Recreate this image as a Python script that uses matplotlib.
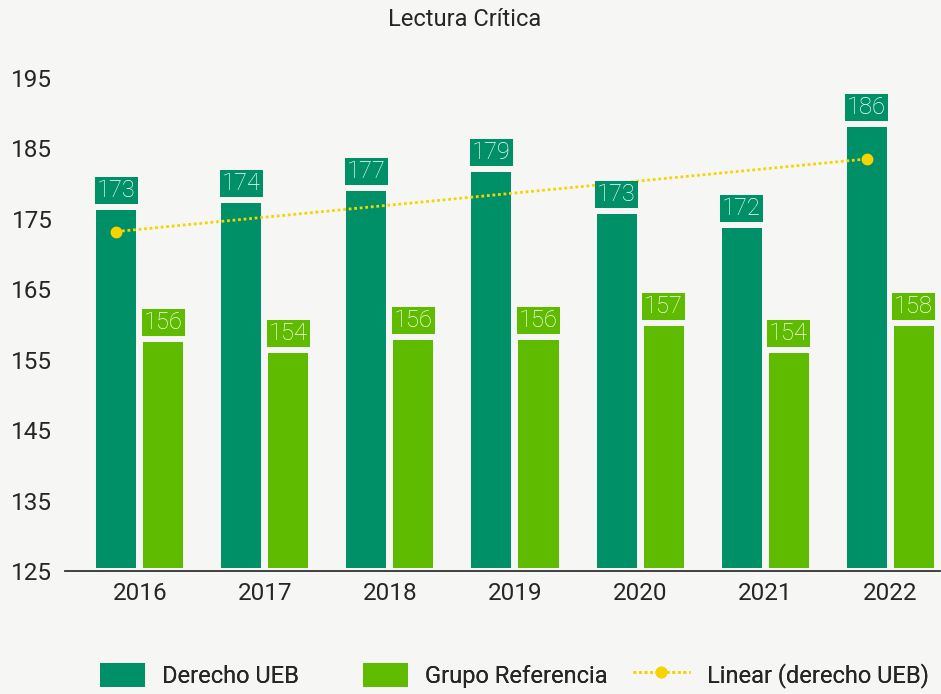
import numpy as np
import matplotlib
matplotlib.use("Agg")
import matplotlib.pyplot as plt
from matplotlib.patches import Patch
from matplotlib.lines import Line2D

plt.rcParams["font.family"] = ["Roboto", "DejaVu Sans"]

years = ["2016", "2017", "2018", "2019", "2020", "2021", "2022"]
ueb_labels = [173, 174, 177, 179, 173, 172, 186]
ref_labels = [156, 154, 156, 156, 157, 154, 158]
# bar heights as drawn in the picture (they sit a bit above the printed labels)
ueb_bars = [176.3, 177.3, 179.0, 181.7, 175.7, 173.7, 188.1]
ref_bars = [157.5, 156.0, 157.8, 157.8, 159.8, 156.0, 159.8]
trend_years = ["2016", "2022"]
trend_vals = [173.2, 183.5]

C_UEB = "#009068"
C_REF = "#5fbb00"
C_TREND = "#f7d400"
BG = "#f6f6f4"
TXT = "#262626"

fig = plt.figure(figsize=(9.41, 6.94), dpi=100, facecolor=BG)
ax = fig.add_axes([0.069, 0.177, 0.930, 0.731], facecolor=BG)

x = np.arange(len(years))
w = 0.32
off = 0.188
base = 125.5
ax.bar(x - off, np.array(ueb_bars) - base, w, bottom=base, color=C_UEB, zorder=2)
ax.bar(x + off, np.array(ref_bars) - base, w, bottom=base, color=C_REF, zorder=2)

for xi, h, lab in zip(x - off, ueb_bars, ueb_labels):
    ax.annotate(str(lab), (xi, h), xytext=(0, 14), textcoords="offset points",
                ha="center", va="center", fontsize=17, color="white", fontweight="light",
                bbox=dict(boxstyle="square,pad=0.08", fc=C_UEB, ec="none"), zorder=4)
for xi, h, lab in zip(x + off, ref_bars, ref_labels):
    ax.annotate(str(lab), (xi, h), xytext=(0, 14), textcoords="offset points",
                ha="center", va="center", fontsize=17, color="white", fontweight="light",
                bbox=dict(boxstyle="square,pad=0.08", fc=C_REF, ec="none"), zorder=4)

tx = [years.index(t) - off for t in trend_years]
ax.plot(tx, trend_vals, color=C_TREND, lw=2, dashes=(1, 1), marker="o",
        markersize=7.5, zorder=3)

ax.set_xlim(-0.6, len(years) - 0.6)
ax.set_ylim(125, 197)
ax.set_yticks(np.arange(125, 196, 10))
ax.set_xticks(x)
ax.set_xticklabels(years)
ax.tick_params(axis="both", length=0, labelsize=17.5, colors=TXT)
ax.tick_params(axis="y", pad=9)
ax.tick_params(axis="x", pad=8)
for s in ["top", "right", "left"]:
    ax.spines[s].set_visible(False)
ax.spines["bottom"].set_color("#333333")
ax.spines["bottom"].set_linewidth(1.3)

fig.text(0.494, 0.972, "Lectura Crítica", ha="center", va="center", fontsize=17, color=TXT)

# legend: three equal-width slots, like the original
items = [
    (Patch(facecolor=C_UEB, label="Derecho UEB"), 100, 1.9),
    (Patch(facecolor=C_REF, label="Grupo Referencia"), 363, 1.9),
    (Line2D([0], [0], color=C_TREND, lw=2, dashes=(1, 1), marker="o", markersize=7.5,
            markevery=[0, -1], label="Linear (derecho UEB)"), 633, 2.4),
]
for h, px, hl in items:
    leg = fig.legend(handles=[h], loc="center left", bbox_to_anchor=(px / 941, 0.027),
                     frameon=False, fontsize=17, handlelength=hl, handleheight=1.2,
                     handletextpad=0.72, borderpad=0, borderaxespad=0, labelcolor=TXT)
    fig.add_artist(leg)

fig.savefig("out.png", dpi=100, facecolor=BG)
